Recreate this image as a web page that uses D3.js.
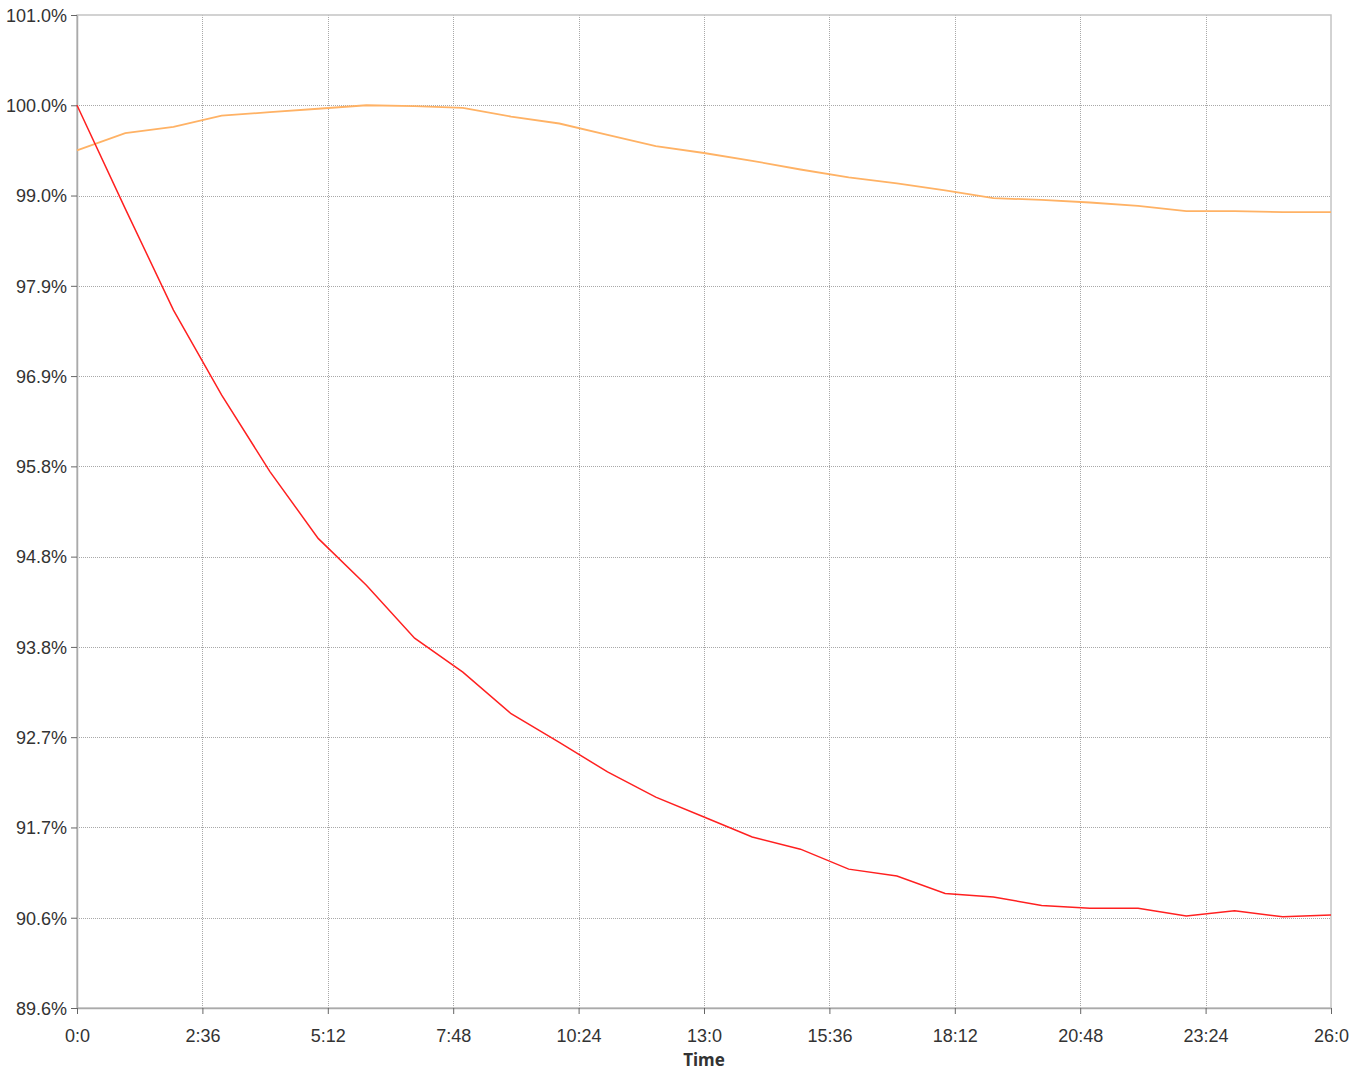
<!DOCTYPE html>
<html>
<head>
<meta charset="utf-8">
<script src="https://cdn.jsdelivr.net/npm/d3@7/dist/d3.min.js"></script>
<style>
  html, body { margin: 0; padding: 0; background: #fff; }
  svg { display: block; font-family: "Noto Sans", "Open Sans", sans-serif; }
</style>
</head>
<body>
<svg id="chart" width="1365" height="1073"></svg>
<script>
// Time in minutes
const minutes = [0,1,2,3,4,5,6,7,8,9,10,11,12,13,14,15,16,17,18,19,20,21,22,23,24,25,26];
// Red series (%)
const redValues = [100.00,98.81,97.64,96.66,95.78,95.01,94.47,93.86,93.47,92.99,92.66,92.32,92.03,91.80,91.57,91.43,91.20,91.12,90.92,90.88,90.78,90.75,90.75,90.66,90.72,90.65,90.67];
// Orange series (%)
const orangeValues = [99.48,99.68,99.75,99.88,99.92,99.96,100.00,99.99,99.97,99.87,99.79,99.66,99.53,99.45,99.36,99.26,99.17,99.10,99.02,98.93,98.91,98.88,98.84,98.78,98.78,98.77,98.77];
// Axis ranges and tick labels
const yDomain = [89.60, 101.04];
const yTickLabels = ["89.6%","90.6%","91.7%","92.7%","93.8%","94.8%","95.8%","96.9%","97.9%","99.0%","100.0%","101.0%"];
const xDomain = [0, 26];
const xTickLabels = ["0:0","2:36","5:12","7:48","10:24","13:0","15:36","18:12","20:48","23:24","26:0"];
const xTitle = "Time";

const svg = d3.select("#chart");
const m = { left: 77, right: 1331, top: 15, bottom: 1008 };

const x = d3.scaleLinear().domain(xDomain).range([m.left, m.right]);
const y = d3.scaleLinear().domain(yDomain).range([m.bottom, m.top]);

const yTicks = yTickLabels.map((_, i) => yDomain[0] + i * (yDomain[1] - yDomain[0]) / (yTickLabels.length - 1));
const xTicks = xTickLabels.map((_, i) => xDomain[0] + i * (xDomain[1] - xDomain[0]) / (xTickLabels.length - 1));

// Grid lines
svg.append("g").selectAll("line.hg").data(yTicks.slice(1, -1)).join("line")
  .attr("x1", m.left).attr("x2", m.right)
  .attr("y1", d => Math.round(y(d)) + 0.5).attr("y2", d => Math.round(y(d)) + 0.5)
  .attr("stroke", "#a8a8a8").attr("stroke-width", 1).attr("stroke-dasharray", "1,1");
svg.append("g").selectAll("line.vg").data(xTicks.slice(1, -1)).join("line")
  .attr("y1", m.top).attr("y2", m.bottom)
  .attr("x1", d => Math.round(x(d)) + 0.5).attr("x2", d => Math.round(x(d)) + 0.5)
  .attr("stroke", "#a8a8a8").attr("stroke-width", 1).attr("stroke-dasharray", "1,1");

// Border box
svg.append("rect")
  .attr("x", m.left).attr("y", m.top)
  .attr("width", m.right - m.left).attr("height", m.bottom - m.top)
  .attr("fill", "none").attr("stroke", "#c4c4c4").attr("stroke-width", 1.5);

// Axes
const yAxis = d3.axisLeft(y).tickValues(yTicks).tickFormat((d, i) => yTickLabels[i]).tickSize(6).tickSizeOuter(0);
const gy = svg.append("g").attr("transform", `translate(${m.left},0)`).call(yAxis);
gy.select(".domain").attr("stroke", "#aaaaaa").attr("stroke-width", 1.5);
gy.selectAll(".tick line").attr("stroke", "#666");
gy.selectAll(".tick text").attr("font-size", 18).attr("fill", "#333").attr("x", -10).attr("dy", "0.35em");

const xAxis = d3.axisBottom(x).tickValues(xTicks).tickFormat((d, i) => xTickLabels[i]).tickSize(6).tickSizeOuter(0);
const gx = svg.append("g").attr("transform", `translate(0,${m.bottom})`).call(xAxis);
gx.select(".domain").attr("stroke", "#aaaaaa").attr("stroke-width", 1.5);
gx.selectAll(".tick line").attr("stroke", "#666");
gx.selectAll(".tick text").attr("font-size", 18).attr("fill", "#333").attr("y", 21).attr("dy", "0.71em");

svg.append("text")
  .attr("x", (m.left + m.right) / 2).attr("y", 1066)
  .attr("text-anchor", "middle").attr("font-size", 17).attr("font-weight", "bold").attr("fill", "#333")
  .text(xTitle);

// Lines
const line = vals => d3.line().x((d, i) => x(minutes[i])).y(d => y(d))(vals);
svg.append("path").attr("d", line(orangeValues))
  .attr("fill", "none").attr("stroke", "#ffb265").attr("stroke-width", 1.8);
svg.append("path").attr("d", line(redValues))
  .attr("fill", "none").attr("stroke", "#ff2020").attr("stroke-width", 1.5);
</script>
</body>
</html>
